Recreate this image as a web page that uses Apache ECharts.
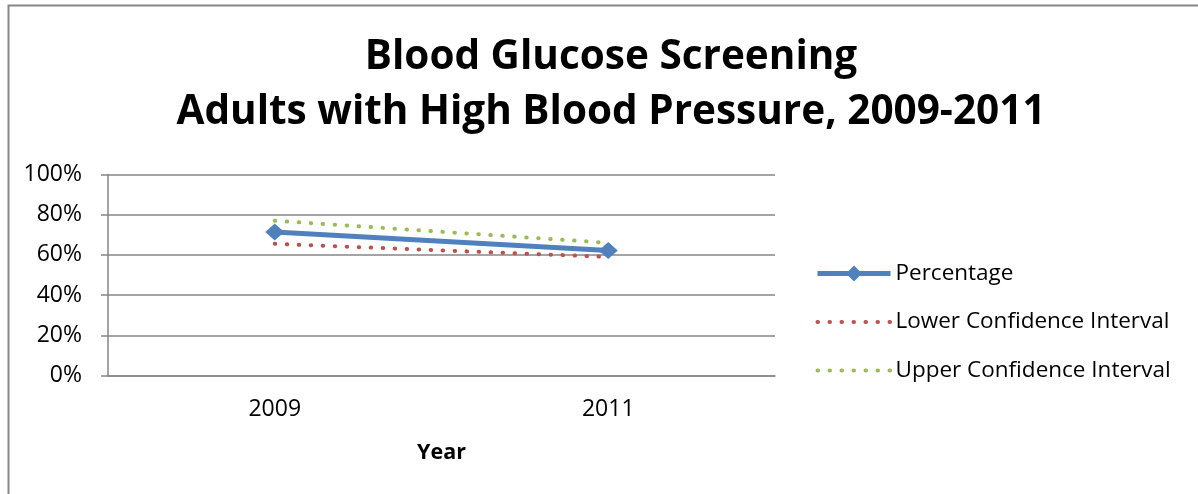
<!DOCTYPE html>
<html>
<head>
<meta charset="utf-8">
<script src="https://cdn.jsdelivr.net/npm/echarts@6/dist/echarts.min.js"></script>
<style>
  html, body { margin: 0; padding: 0; background: #fff; }
  #chart { width: 1198px; height: 494px; }
</style>
</head>
<body>
<div id="chart"></div>
<script>
const years = ['2009', '2011']
const percentage = [71.4, 62.2]
const lowerCI = [65.5, 59.0]
const upperCI = [77.0, 66.0]
const yTicks = [0, 20, 40, 60, 80, 100]

const font = '"Open Sans", Lato, sans-serif'
const chart = echarts.init(document.getElementById('chart'))

const option = {
  animation: false,
  textStyle: { fontFamily: font },
  title: {
    text: 'Blood Glucose Screening\nAdults with High Blood Pressure, 2009-2011',
    left: 606,
    textAlign: 'center',
    top: 25,
    textStyle: {
      fontSize: 40.5,
      fontWeight: 'bold',
      color: '#000',
      lineHeight: 55,
      fontFamily: font
    }
  },
  graphic: [{
    type: 'rect',
    left: 6,
    top: 3,
    shape: { width: 1400, height: 700 },
    style: { fill: 'none', stroke: '#878787', lineWidth: 2 },
    silent: true
  }],
  legend: {
    orient: 'vertical',
    left: 815,
    top: 262,
    padding: 0,
    itemWidth: 73,
    itemHeight: 20,
    itemGap: 25.5,
    textStyle: { fontSize: 22.5, lineHeight: 20, color: '#000', fontFamily: font },
    data: [
      { name: 'Percentage', lineStyle: { width: 5 } },
      { name: 'Lower Confidence Interval', itemStyle: { opacity: 0 }, lineStyle: { width: 4 } },
      { name: 'Upper Confidence Interval', itemStyle: { opacity: 0 }, lineStyle: { width: 4 } }
    ]
  },
  grid: {
    left: 108,
    right: 423,
    top: 174.5,
    bottom: 118.5
  },
  xAxis: {
    type: 'category',
    data: years,
    name: 'Year',
    nameLocation: 'middle',
    nameGap: 66,
    nameTextStyle: { fontSize: 21.5, fontWeight: 'bold', color: '#000', fontFamily: font },
    axisLine: { lineStyle: { color: '#868686', width: 1.5 } },
    axisTick: { length: 7, lineStyle: { color: '#868686', width: 1.5 } },
    axisLabel: { fontSize: 23, color: '#000', margin: 22, fontFamily: font }
  },
  yAxis: {
    type: 'value',
    min: yTicks[0],
    max: yTicks[yTicks.length - 1],
    interval: 20,
    axisLine: { show: true, lineStyle: { color: '#868686', width: 1.5 } },
    axisTick: { show: true, length: 7, lineStyle: { color: '#868686', width: 1.5 } },
    axisLabel: { fontSize: 23, color: '#000', margin: 26, formatter: '{value}%', fontFamily: font },
    splitLine: { lineStyle: { color: '#868686', width: 1.5 } }
  },
  series: [
    {
      name: 'Percentage',
      type: 'line',
      data: percentage,
      z: 5,
      symbol: 'diamond',
      symbolSize: [19, 17],
      lineStyle: { color: '#4F81BD', width: 5 },
      itemStyle: { color: '#4F81BD' }
    },
    {
      name: 'Lower Confidence Interval',
      type: 'line',
      data: lowerCI,
      z: 3,
      symbol: 'none',
      lineStyle: { color: '#C0504D', width: 4, type: [0.5, 11.5], cap: 'round' },
      itemStyle: { color: '#C0504D' }
    },
    {
      name: 'Upper Confidence Interval',
      type: 'line',
      data: upperCI,
      z: 3,
      symbol: 'none',
      lineStyle: { color: '#9BBB59', width: 4, type: [0.5, 11.5], cap: 'round' },
      itemStyle: { color: '#9BBB59' }
    }
  ]
}

chart.setOption(option)
</script>
</body>
</html>
